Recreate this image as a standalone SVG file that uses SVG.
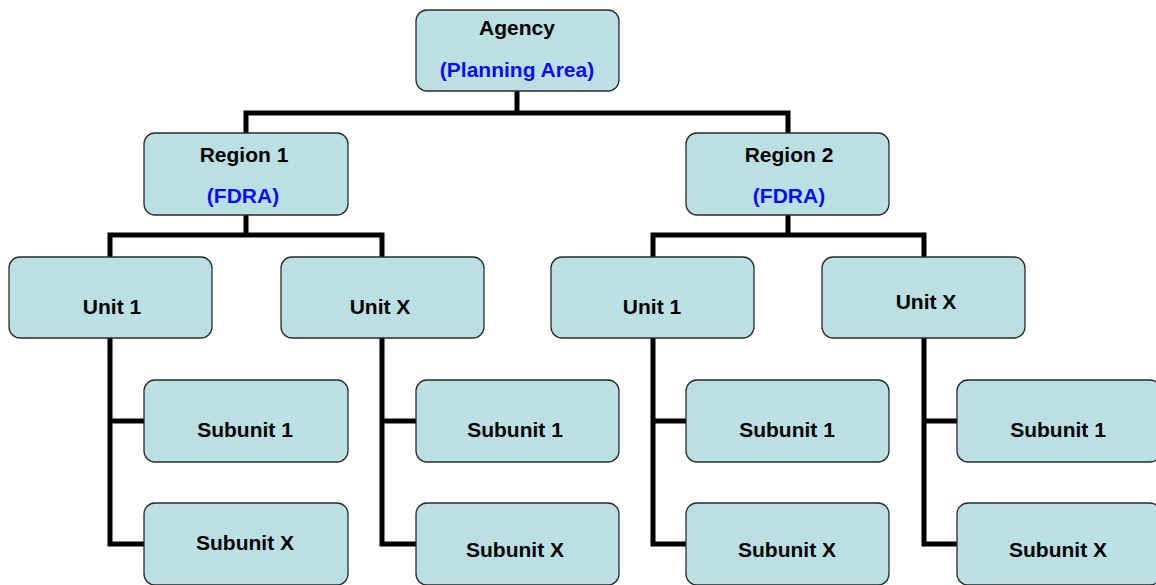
<svg xmlns="http://www.w3.org/2000/svg" width="1156" height="585" viewBox="0 0 1156 585">
<style>
.box{fill:#BBE0E3;stroke:#2a2a2a;stroke-width:1.3}
.t{font-family:"Liberation Sans",Arial,sans-serif;font-weight:bold;font-size:21px;fill:#000;text-anchor:middle}
.b{fill:#0A0AFF}
.c{fill:none;stroke:#000;stroke-width:5;stroke-linejoin:miter;stroke-linecap:butt}
</style>
<rect width="1156" height="585" fill="#fff"/>
<g id="connectors">
<path class="c" d="M517 91V113M246 133V113H788V133"/>
<path class="c" d="M246 215V235M110 257V235H382V257"/>
<path class="c" d="M788 215V235M653 257V235H924V257"/>
<path class="c" d="M110 338V544H144M110 421H144"/>
<path class="c" d="M382 338V544H416M382 421H416"/>
<path class="c" d="M653 338V544H686M653 421H686"/>
<path class="c" d="M924 338V544H957M924 421H957"/>
</g>
<g id="agency"><rect class="box" x="416" y="10" width="203" height="81" rx="11"/><text class="t" x="517" y="35">Agency</text><text class="t b" x="517" y="77">(Planning Area)</text></g>
<g id="region1"><rect class="box" x="144" y="133" width="204" height="82" rx="11"/><text class="t" x="244" y="162">Region 1</text><text class="t b" x="243" y="203">(FDRA)</text></g>
<g id="region2"><rect class="box" x="686" y="133" width="203" height="82" rx="11"/><text class="t" x="789" y="162">Region 2</text><text class="t b" x="789" y="203">(FDRA)</text></g>
<g id="r1-unit1"><rect class="box" x="9" y="257" width="203" height="81" rx="11"/><text class="t" x="112" y="314">Unit 1</text></g>
<g id="r1-unitx"><rect class="box" x="281" y="257" width="203" height="81" rx="11"/><text class="t" x="380" y="314">Unit X</text></g>
<g id="r2-unit1"><rect class="box" x="551" y="257" width="203" height="81" rx="11"/><text class="t" x="652" y="314">Unit 1</text></g>
<g id="r2-unitx"><rect class="box" x="822" y="257" width="203" height="81" rx="11"/><text class="t" x="926" y="309">Unit X</text></g>
<g id="c1-sub1"><rect class="box" x="144" y="380" width="204" height="82" rx="11"/><text class="t" x="245" y="437">Subunit 1</text></g>
<g id="c1-subx"><rect class="box" x="144" y="503" width="204" height="82" rx="11"/><text class="t" x="245" y="550">Subunit X</text></g>
<g id="c2-sub1"><rect class="box" x="416" y="380" width="203" height="82" rx="11"/><text class="t" x="515" y="437">Subunit 1</text></g>
<g id="c2-subx"><rect class="box" x="416" y="503" width="203" height="82" rx="11"/><text class="t" x="515" y="557">Subunit X</text></g>
<g id="c3-sub1"><rect class="box" x="686" y="380" width="203" height="82" rx="11"/><text class="t" x="787" y="437">Subunit 1</text></g>
<g id="c3-subx"><rect class="box" x="686" y="503" width="203" height="82" rx="11"/><text class="t" x="787" y="557">Subunit X</text></g>
<g id="c4-sub1"><rect class="box" x="957" y="380" width="204" height="82" rx="11"/><text class="t" x="1058" y="437">Subunit 1</text></g>
<g id="c4-subx"><rect class="box" x="957" y="503" width="204" height="82" rx="11"/><text class="t" x="1058" y="557">Subunit X</text></g>
</svg>
